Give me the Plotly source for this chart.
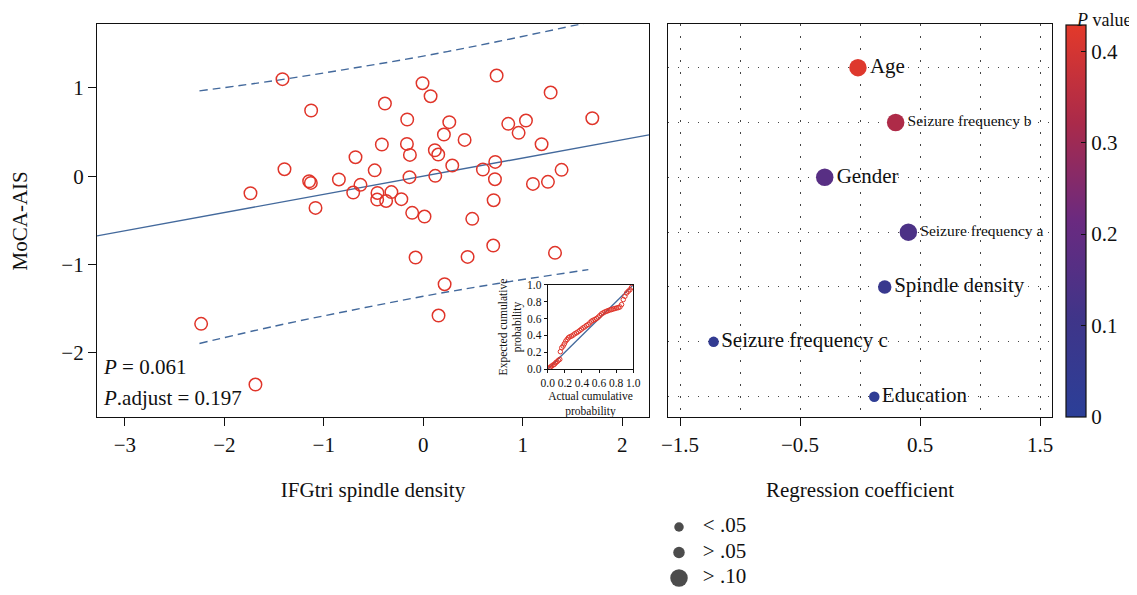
import plotly.graph_objects as go

OFF = 8  # page body margin
W, H = 1137 - OFF, 595 - OFF
FONT = "Liberation Serif"

# ---------------- data: left scatter ----------------
spindle_density = [-1.415, -1.127, -1.395, -1.737, -1.147, -1.130, -1.083, -0.848, -0.681, -0.704,
                   -0.631, -0.488, -0.385, -0.416, -0.460, -0.463, -0.373, -0.320, -0.220, -0.007,
                   0.074, 0.738, 1.281, -0.161, 0.262, 0.208, 0.855, 1.033, 0.959, 1.700,
                   -0.164, -0.134, 0.117, 0.151, 0.416, 1.190, 0.292, 0.600, 0.724, -0.138,
                   0.121, 0.721, 1.103, 1.254, 1.391, 0.708, -0.111, 0.013, 0.493, 0.704,
                   -0.077, 0.446, 1.325, 0.215, 0.154, -2.233, -1.687]
moca_ais = [1.099, 0.744, 0.079, -0.193, -0.057, -0.076, -0.359, -0.037, 0.215, -0.185,
            -0.098, 0.066, 0.823, 0.359, -0.190, -0.265, -0.280, -0.180, -0.260, 1.053,
            0.906, 1.140, 0.947, 0.642, 0.612, 0.472, 0.593, 0.630, 0.491, 0.657,
            0.366, 0.241, 0.294, 0.245, 0.411, 0.362, 0.121, 0.076, 0.162, -0.011,
            0.004, -0.034, -0.087, -0.064, 0.072, -0.272, -0.415, -0.457, -0.483, -0.785,
            -0.921, -0.914, -0.868, -1.223, -1.578, -1.672, -2.359]

fit_intercept = 0.0
fit_slope = 0.206
band_x = [-2.25, -1.5, -0.75, 0.0, 0.75, 1.66]
band_upper = [0.966, 1.081, 1.215, 1.360, 1.525, 1.742]
band_lower = [-1.894, -1.699, -1.525, -1.360, -1.215, -1.058]

p_text = "<i>P</i> = 0.061"
p_adj_text = "<i>P</i>.adjust = 0.197"

# ---------------- data: inset P-P plot ----------------
pp_actual = [0.016, 0.031, 0.047, 0.063, 0.078, 0.094, 0.109, 0.125, 0.141, 0.148,
             0.164, 0.180, 0.195, 0.211, 0.227, 0.242, 0.258, 0.277, 0.297, 0.316,
             0.336, 0.355, 0.375, 0.395, 0.414, 0.434, 0.453, 0.473, 0.492, 0.512,
             0.531, 0.551, 0.570, 0.590, 0.609, 0.629, 0.648, 0.668, 0.688, 0.707,
             0.727, 0.746, 0.766, 0.785, 0.805, 0.824, 0.844, 0.863, 0.883, 0.902,
             0.922, 0.941, 0.961, 0.980]
pp_expected = [0.012, 0.027, 0.039, 0.051, 0.059, 0.078, 0.090, 0.106, 0.118, 0.208,
               0.255, 0.275, 0.302, 0.333, 0.353, 0.373, 0.384, 0.392, 0.404, 0.420,
               0.431, 0.443, 0.459, 0.475, 0.490, 0.502, 0.518, 0.529, 0.549, 0.569,
               0.580, 0.588, 0.600, 0.616, 0.635, 0.655, 0.667, 0.678, 0.686, 0.694,
               0.702, 0.706, 0.714, 0.718, 0.725, 0.729, 0.737, 0.765, 0.824, 0.863,
               0.902, 0.922, 0.941, 0.969]
pp_ticks = [0.0, 0.2, 0.4, 0.6, 0.8, 1.0]

# ---------------- data: right coefficient plot ----------------
predictors = ["Age", "Seizure frequency b", "Gender", "Seizure frequency a",
              "Spindle density", "Seizure frequency c", "Education"]
coefficients = [-0.017, 0.297, -0.294, 0.403, 0.206, -1.22, 0.119]
p_values = [0.42, 0.33, 0.17, 0.14, 0.07, 0.04, 0.02]
label_font_sizes = [21, 15.5, 21, 15.5, 21, 21, 21]

legend_labels = ["< .05", "> .05", "> .10"]
colorbar_ticks = [0, 0.1, 0.2, 0.3, 0.4]

# ---------------- helpers ----------------
def px_x(p):
    return (p - OFF) / W

def px_y(p):
    return 1 - (p - OFF) / H

def marker_size(p):
    if p < 0.05:
        return 10.5
    if p <= 0.10:
        return 13.5
    return 17.5

legend_sizes = [9.5, 11.5, 17.5]

RED = "#e0352a"
BLUE = "#43699c"
TXT = "#111"
FS = 21
colorscale = [[0, "#2b3f98"], [0.25, "#3f3589"], [0.5, "#6a2a80"],
              [0.75, "#aa2a4a"], [1, "#e3392a"]]

fig = go.Figure()

# left: fitted line
xr = [-3.28, 2.27]
fig.add_trace(go.Scatter(x=xr, y=[fit_intercept + fit_slope * v for v in xr],
                         mode="lines", line=dict(color=BLUE, width=1.4),
                         xaxis="x", yaxis="y", showlegend=False, hoverinfo="skip"))
fig.add_trace(go.Scatter(x=band_x, y=band_upper, mode="lines",
                         line=dict(color=BLUE, width=1.4, dash="8px,5px", shape="spline"),
                         xaxis="x", yaxis="y", showlegend=False))
fig.add_trace(go.Scatter(x=band_x, y=band_lower, mode="lines",
                         line=dict(color=BLUE, width=1.4, dash="8px,5px", shape="spline"),
                         xaxis="x", yaxis="y", showlegend=False))
fig.add_trace(go.Scatter(x=spindle_density, y=moca_ais, mode="markers",
                         marker=dict(symbol="circle-open", size=12.5, color=RED,
                                     line=dict(width=1.5, color=RED)),
                         xaxis="x", yaxis="y", showlegend=False))

# inset
fig.add_trace(go.Scatter(x=[0, 1], y=[0, 1], mode="lines",
                         line=dict(color=BLUE, width=1.3),
                         xaxis="x3", yaxis="y3", showlegend=False))
fig.add_trace(go.Scatter(x=pp_actual, y=pp_expected, mode="markers",
                         marker=dict(symbol="circle-open", size=4.5, color=RED,
                                     line=dict(width=1, color=RED)),
                         xaxis="x3", yaxis="y3", showlegend=False))

# right: coefficients
n = len(predictors)
ypos = [n - 1 - i for i in range(n)]
fig.add_trace(go.Scatter(
    x=coefficients, y=ypos, mode="markers+text",
    text=predictors, textposition="middle right",
    textfont=dict(family=FONT, size=label_font_sizes, color=TXT),
    marker=dict(size=[marker_size(p) for p in p_values], color=p_values,
                colorscale=colorscale, cmin=0, cmax=0.429, opacity=1,
                line=dict(width=0),
                colorbar=dict(
                    x=px_x(1065.7), xanchor="left", thickness=20, thicknessmode="pixels",
                    len=(416.7 - 25) / H, lenmode="fraction",
                    y=px_y((25 + 416.7) / 2), yanchor="middle",
                    outlinecolor=TXT, outlinewidth=1.2, xpad=0, ypad=0,
                    tickvals=colorbar_ticks, ticktext=[str(t) for t in colorbar_ticks],
                    ticks="inside", ticklen=5, tickcolor=TXT, tickwidth=1.2,
                    tickfont=dict(family=FONT, size=FS, color=TXT),
                    title=dict(text=""),
                )),
    cliponaxis=False,
    xaxis="x2", yaxis="y2", showlegend=False))

# bottom size legend
fig.add_trace(go.Scatter(x=[0] * 3, y=[0, 1, 2], mode="markers",
                         marker=dict(size=legend_sizes, color="#000", line=dict(width=0)),
                         xaxis="x4", yaxis="y4", showlegend=False))
fig.add_trace(go.Scatter(x=[1.7] * 3, y=[0, 1, 2], mode="text", text=legend_labels,
                         textposition="middle right",
                         textfont=dict(family=FONT, size=FS, color=TXT),
                         xaxis="x4", yaxis="y4", showlegend=False))

axis_common = dict(showline=True, linecolor=TXT, linewidth=1.3, mirror=True,
                   zeroline=False, showgrid=False, automargin=False,
                   tickfont=dict(family=FONT, size=FS, color=TXT))

fig.update_layout(
    width=W, height=H,
    margin=dict(l=0, r=0, t=0, b=0, autoexpand=False),
    paper_bgcolor="white", plot_bgcolor="white",
    font=dict(family=FONT, color=TXT),
    xaxis=dict(domain=[px_x(97), px_x(649)], range=[-3.28, 2.27], anchor="y",
               tickvals=[-3, -2, -1, 0, 1, 2], ticks="outside", ticklen=8, tickwidth=1.3,
               tickcolor=TXT,
               title=dict(text="IFGtri spindle density", standoff=26,
                          font=dict(family=FONT, size=FS, color=TXT)),
               **axis_common),
    yaxis=dict(domain=[px_y(417.3), px_y(24.3)], range=[-2.73, 1.72], anchor="x",
               tickvals=[-2, -1, 0, 1], ticks="outside", ticklen=8, tickwidth=1.3,
               tickcolor=TXT,
               title=dict(text="MoCA-AIS", standoff=40,
                          font=dict(family=FONT, size=FS, color=TXT)),
               **axis_common),
    xaxis2=dict(domain=[px_x(667.7), px_x(1052.3)], range=[-1.6025, 1.6025], anchor="y2",
                tickvals=[-1.5, -0.5, 0.5, 1.5], ticktext=["\u22121.5", "\u22120.5", "0.5", "1.5"],
                ticks="outside", ticklen=8, tickwidth=1.3, tickcolor=TXT,
                title=dict(text="Regression coefficient", standoff=26,
                           font=dict(family=FONT, size=FS, color=TXT)),
                showline=True, linecolor=TXT, linewidth=1.3, mirror=True, zeroline=False,
                automargin=False,
                tickfont=dict(family=FONT, size=FS, color=TXT),
                showgrid=True, gridcolor="#444", gridwidth=1.3, griddash="1.3px,10.7px",
                minor=dict(tick0=0, dtick=0.5, showgrid=True, gridcolor="#444",
                           gridwidth=1.3, griddash="1.3px,10.7px", ticks="")),
    yaxis2=dict(domain=[px_y(417.3), px_y(24.3)], range=[-0.376, 6.79], anchor="x2",
                tickvals=list(range(n)), showticklabels=False, ticks="",
                showline=True, linecolor=TXT, linewidth=1.3, mirror=True, zeroline=False,
                automargin=False,
                showgrid=True, gridcolor="#444", gridwidth=1.3, griddash="1.3px,8.7px"),
    xaxis3=dict(domain=[px_x(547.7), px_x(633.3)], range=[0, 1], anchor="y3",
                tickvals=pp_ticks, ticktext=[f"{t:.1f}" for t in pp_ticks],
                ticks="outside", ticklen=3, tickwidth=1, tickcolor=TXT,
                showline=True, linecolor=TXT, linewidth=1, mirror=True, zeroline=False,
                automargin=False,
                showgrid=False, tickfont=dict(family=FONT, size=11.5, color=TXT),
                title=dict(text="Actual cumulative<br>probability", standoff=3,
                           font=dict(family=FONT, size=11.5, color=TXT))),
    yaxis3=dict(domain=[px_y(369.3), px_y(284.7)], range=[0, 1], anchor="x3",
                tickvals=pp_ticks, ticktext=[f"{t:.1f}" for t in pp_ticks],
                ticks="outside", ticklen=3, tickwidth=1, tickcolor=TXT,
                showline=True, linecolor=TXT, linewidth=1, mirror=True, zeroline=False,
                automargin=False,
                showgrid=False, tickfont=dict(family=FONT, size=11.5, color=TXT),
                title=dict(text="Expected cumulative<br>probability", standoff=2,
                           font=dict(family=FONT, size=11.5, color=TXT))),
    xaxis4=dict(domain=[px_x(665), px_x(805)], range=[-1, 9], anchor="y4", visible=False),
    yaxis4=dict(domain=[0, px_y(505)], range=[2.667, -0.863], anchor="x4", visible=False),
    annotations=[
        dict(text=p_text, xref="paper", yref="paper", x=px_x(101), y=px_y(367),
             xanchor="left", yanchor="middle", showarrow=False,
             font=dict(family=FONT, size=FS, color=TXT)),
        dict(text=p_adj_text, xref="paper", yref="paper", x=px_x(101), y=px_y(398),
             xanchor="left", yanchor="middle", showarrow=False,
             font=dict(family=FONT, size=FS, color=TXT)),
        dict(text="<i>P</i> value", xref="paper", yref="paper", x=px_x(1133), y=px_y(8),
             xanchor="right", yanchor="top", showarrow=False,
             font=dict(family=FONT, size=18, color=TXT)),
    ],
)

fig.write_html("out.html")
